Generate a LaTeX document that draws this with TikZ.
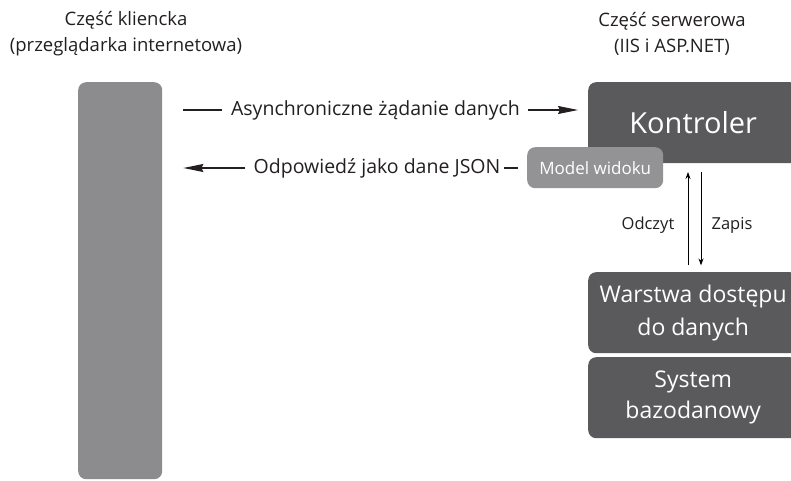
\documentclass[tikz,border=0pt]{standalone}
\usepackage{fontspec}
\setmainfont{Open Sans}
\usetikzlibrary{arrows.meta}
\definecolor{darkbox}{HTML}{5A5A5C}
\definecolor{midbox}{HTML}{8C8C8E}
\definecolor{vmbox}{HTML}{939395}
\definecolor{ink}{HTML}{231F20}
\definecolor{thin}{HTML}{6E6E70}
\tikzset{
  darkblock/.style={fill=darkbox, rounded corners=8pt, text=white, align=center, inner sep=0pt, anchor=north west},
  title/.style={text=ink, align=center, font=\fontsize{18.5}{26}\selectfont},
  lbl/.style={text=ink, font=\fontsize{19.5}{22}\selectfont, inner sep=0pt},
  small/.style={text=ink, font=\fontsize{16.5}{18}\selectfont},
  bigarrow/.style={ink, line width=1.1pt, -{Stealth[length=20pt,width=8pt,inset=2pt]}},
  plain/.style={ink, line width=1.1pt},
  vline/.style={thin, line width=1pt, -{Stealth[length=7pt,width=5pt]}}
}
\begin{document}
\begin{tikzpicture}[x=1pt,y=1pt]
\useasboundingbox (0,0) rectangle (791,480);
% titles
\node[title] (tclient) at (126,446) {Część kliencka\\(przeglądarka internetowa)};
\node[title] (tserver) at (672,446) {Część serwerowa\\(IIS i ASP.NET)};
% client bar
\node[fill=midbox, rounded corners=8pt, minimum width=84pt, minimum height=397pt, inner sep=0pt, anchor=north west] (bar) at (78,398) {};
% server blocks
\node[darkblock, minimum width=210pt, minimum height=81pt, font=\fontsize{29}{30}\selectfont] (ctrl) at (588,398) {Kontroler};
\node[fill=vmbox, rounded corners=8pt, minimum width=136pt, minimum height=41pt, inner sep=0pt, anchor=north west, text=white, font=\fontsize{17}{18}\selectfont] (vm) at (527,333) {Model widoku};
\node[darkblock, minimum width=210pt, minimum height=81pt, font=\fontsize{23}{33}\selectfont] (dal) at (588,208) {Warstwa dostępu\\do danych};
\node[darkblock, minimum width=210pt, minimum height=81pt, font=\fontsize{23}{31}\selectfont] (db) at (588,123) {System\\bazodanowy};
% request arrow
\node[lbl] (req) at (375.5,370) {Asynchroniczne żądanie danych};
\coordinate (reqstart) at ([xshift=21pt]bar.east |- req);
\draw[plain] (reqstart) -- ([xshift=-9pt]req.west);
\draw[bigarrow] ([xshift=8pt]req.east) -- ([xshift=-10pt]ctrl.west |- req);
% response arrow
\node[lbl] (resp) at (377,312) {Odpowiedź jako dane JSON};
\draw[plain] (vm.west |- resp) ++(-9pt,0) coordinate (rs) -- ([xshift=3pt]resp.east);
\draw[bigarrow] ([xshift=-8pt]resp.west) -- ([xshift=21pt]bar.east |- resp);
% read/write
\draw[vline] ([yshift=7pt]dal.north -| ctrl.south west) ++(100pt,0) coordinate (ru) -- ++(0,93pt);
\draw[vline] ([yshift=-9pt]ctrl.south west) ++(113pt,0) coordinate (wd) -- ++(0,-93pt);
\node[small] (rd) at (648,255) {Odczyt};
\node[small] (wr) at (732,255) {Zapis};
\end{tikzpicture}
\end{document}
